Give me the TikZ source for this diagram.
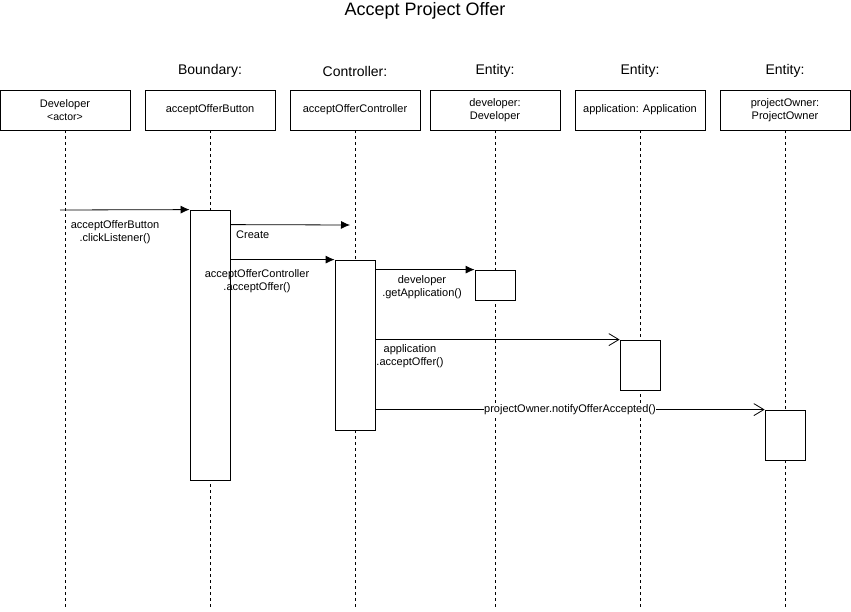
\documentclass[tikz,border=0pt]{standalone}
\usepackage{fontspec}
\setmainfont{Liberation Sans}
\usetikzlibrary{arrows.meta,calc}

\tikzset{
  objbox/.style={draw, thick, minimum width=130pt, minimum height=40pt, align=center, inner sep=1pt, font=\fontsize{11}{13}\selectfont},
  actbox/.style={draw, thick, fill=white, minimum width=40pt, inner sep=0pt},
  lifeline/.style={semithick, dash pattern=on 3pt off 3pt},
  call/.style={thick, -{Latex[length=9pt,width=8pt]}},
  opencall/.style={thick, -{Straight Barb[length=10pt,width=12pt,line width=0.8pt]}},
  msg/.style={font=\fontsize{11}{13}\selectfont, align=center, inner sep=1pt},
  stereo/.style={font=\fontsize{14}{16}\selectfont}
}

\begin{document}
\begin{tikzpicture}[x=1pt, y=-1pt]
    \useasboundingbox (0,0) rectangle (851,612);
    % Title
    \node (title) at (425,11) {\fontsize{18}{21}\selectfont Accept Project Offer};
    % Stereotypes
    \node[stereo] (bnd) at (210,71) {Boundary:};
    \node[stereo] (ctl) at (355,71) {Controller:};
    \node[stereo] (ent1) at (495,71) {Entity:};
    \node[stereo] (ent2) at (640,71) {Entity:};
    \node[stereo] (ent3) at (785,71) {Entity:};
    % Objects
    \node[objbox] (dev) at (65,110) {Developer\\{\fontsize{10.5}{13}\selectfont <actor>}};
    \node[objbox] (btn) at (210,110) {acceptOfferButton};
    \node[objbox] (ctrl) at (355,110) {acceptOfferController};
    \node[objbox] (devobj) at (495,110) {developer:\\Developer};
    \node[objbox] (app) at (640,110) {application: Application};
    \node[objbox] (owner) at (785,110) {projectOwner:\\ProjectOwner};
    % Lifelines
    \foreach \o/\x in {dev/65, btn/210, ctrl/355, devobj/495, app/640, owner/785}
        \draw[lifeline] (\o.south) -- (\x,610) coordinate (\o end);
    % Activations
    \node[actbox, minimum height=270pt] (btnact) at (210,345) {};
    \node[actbox, minimum height=170pt] (ctrlact) at (355,345) {};
    \node[actbox, minimum height=30pt] (devact) at (495,285) {};
    \node[actbox, minimum height=50pt] (appact) at (640,365) {};
    \node[actbox, minimum height=50pt] (owneract) at (785,435) {};
    % Messages
    \coordinate (m1) at (60,210);
    \draw[call] (m1) -- (btnact.north west);
    \node[msg] (m1lbl) at (115,232) {acceptOfferButton\\.clickListener()};
    \coordinate (m2) at ($(btnact.north east)+(0,15)$);
    \coordinate (m2e) at (350,225);
    \draw[call] (m2) -- (m2e);
    \node[msg, anchor=west] (m2lbl) at (235,235) {Create};
    \coordinate (m3) at ($(btnact.north east)+(0,50)$);
    \draw[call] (m3) -- (ctrlact.north west);
    \node[msg] (m3lbl) at (257,281) {acceptOfferController\\.acceptOffer()};
    \coordinate (m4) at ($(ctrlact.north east)+(0,10)$);
    \draw[call] (m4) -- (devact.north west);
    \node[msg] (m4lbl) at (422,287) {developer\\.getApplication()};
    \coordinate (m5) at ($(ctrlact.north east)+(0,80)$);
    \draw[opencall] (m5) -- (appact.north west);
    \node[msg] (m5lbl) at (410,356) {application\\.acceptOffer()};
    \coordinate (m6) at ($(ctrlact.north east)+(0,150)$);
    \draw[opencall] (m6) -- (owneract.north west)
        node[msg, midway, fill=white, inner sep=0pt] (m6lbl) {projectOwner.notifyOfferAccepted()};
\end{tikzpicture}
\end{document}
